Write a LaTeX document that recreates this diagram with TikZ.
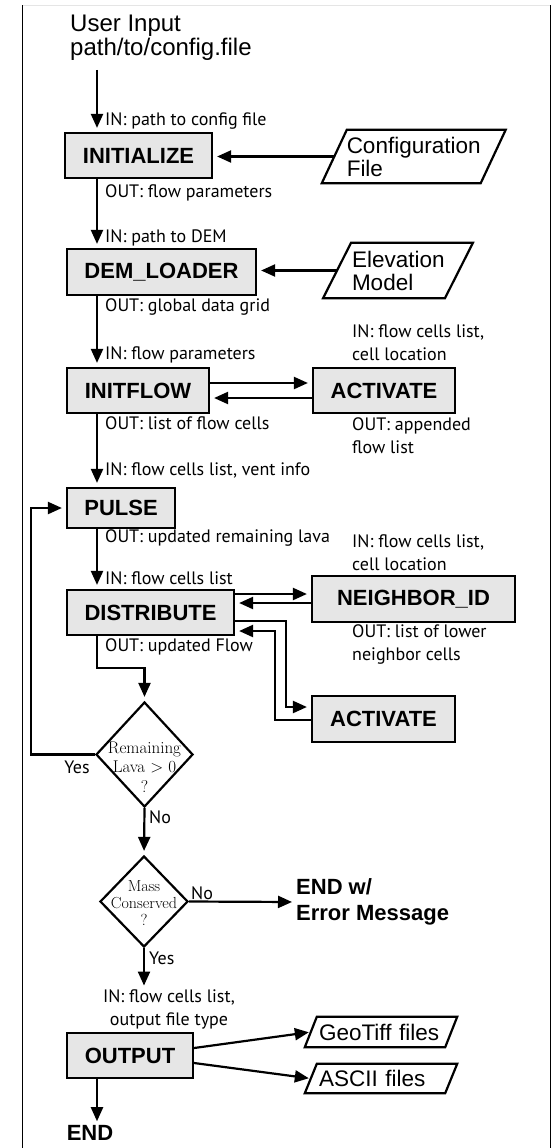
\documentclass[tikz,border=0pt]{standalone}
\usepackage{fontspec}
\newfontfamily\arialf{Liberation Sans}
\newfontfamily\lblf{PT Sans}
\usetikzlibrary{arrows.meta,shapes.geometric,calc}
\definecolor{boxfill}{RGB}{230,230,230}
\begin{document}
\begin{tikzpicture}[x=1pt,y=-1pt,
  box/.style={draw, line width=2.2pt, fill=boxfill, inner sep=0pt, minimum height=45pt,
    font=\arialf\bfseries\fontsize{22}{26}\selectfont},
  lbl/.style={font=\lblf\fontsize{18}{23}\selectfont, inner sep=0pt, align=left},
  arr/.style={line width=2.2pt, -{Triangle[length=14pt,width=12pt]}, shorten >=4pt},
  ln/.style={line width=2.2pt},
  para/.style={font=\arialf\fontsize{22.5}{23}\selectfont, align=left, inner sep=0pt},
  dia/.style={diamond, draw, line width=2.2pt, inner sep=0pt},
  dtxt/.style={font=\rmfamily\fontsize{17}{19.5}\selectfont, align=center, inner sep=0pt},
  big/.style={font=\arialf\bfseries\fontsize{22}{26}\selectfont, inner sep=0pt, align=left}
]
\useasboundingbox (0,0) rectangle (552,1148);
% frame
\draw[gray!20, line width=1pt] (22,6) -- (551,6);
\draw[line width=1.8pt] (22.5,5.5) -- (22.5,1148);
\draw[line width=1.8pt] (550.5,5.5) -- (550.5,1148);

\coordinate (col) at (97,0);
\coordinate (lx) at (31,0);

% user input
\node[font=\arialf\fontsize{24}{24}\selectfont, align=left, inner sep=0pt, anchor=north west] (user) at (70,15) {User Input\\path/to/config.file};
\coordinate (ustart) at (97,70);

% boxes
\node[box, minimum width=147pt] (init) at (138.5,155.5) {INITIALIZE};
\node[box, minimum width=189pt, minimum height=46pt] (dem) at (161.5,272) {DEM\_LOADER};
\node[box, minimum width=142pt] (iflow) at (138,390.5) {INITFLOW};
\node[box, minimum width=142pt] (act1) at (384,390.5) {ACTIVATE};
\node[box, minimum width=108pt, minimum height=40pt] (pulse) at (121,508) {PULSE};
\node[box, minimum width=167pt] (dist) at (150.5,612.5) {DISTRIBUTE};
\node[box, minimum width=203pt, minimum height=46pt] (neigh) at (413.5,599) {NEIGHBOR\_ID};
\node[box, minimum width=143pt, minimum height=46pt] (act2) at (383.5,719) {ACTIVATE};
\node[box, minimum width=126pt] (out) at (130,1055.5) {OUTPUT};

% parallelograms
\node[para, text width=134pt, minimum width=158.5pt, minimum height=53pt] (cfg) at (413.75,156.5) {Configuration\\File};
\draw[ln] ($(cfg.south west)+(-12.5,0)$) -- ($(cfg.north west)+(12.5,0)$) -- ($(cfg.north east)+(12.5,0)$) -- ($(cfg.south east)+(-12.5,0)$) -- cycle;
\node[para, text width=92pt, minimum width=121.5pt, minimum height=55pt] (elev) at (398,270.5) {Elevation\\Model};
\draw[ln] ($(elev.south west)+(-14,0)$) -- ($(elev.north west)+(14,0)$) -- ($(elev.north east)+(14,0)$) -- ($(elev.south east)+(-14,0)$) -- cycle;
\node[para, text width=124pt, minimum width=140pt, minimum height=30pt] (geo) at (381,1032) {GeoTiff files};
\draw[ln] ($(geo.south west)+(-6,0)$) -- ($(geo.north west)+(6,0)$) -- ($(geo.north east)+(6,0)$) -- ($(geo.south east)+(-6,0)$) -- cycle;
\node[para, text width=124pt, minimum width=140pt, minimum height=29pt] (asc) at (381,1078.5) {ASCII files};
\draw[ln] ($(asc.south west)+(-6,0)$) -- ($(asc.north west)+(6,0)$) -- ($(asc.north east)+(6,0)$) -- ($(asc.south east)+(-6,0)$) -- cycle;

% diamonds
\node[dia, minimum width=97pt, minimum height=105pt] (d1) at (144.5,754.5) {};
\node[dtxt] (d1t) at (144.5,767) {Remaining\\Lava > 0\\?};
\node[dia, minimum width=88pt, minimum height=91pt] (d2) at (144,901.5) {};
\node[dtxt, font=\rmfamily\fontsize{16}{17}\selectfont] (d2t) at (144,903) {Mass\\{\addfontfeature{LetterSpace=4}Conserved}\\?};

% labels
\node[lbl, anchor=west] (l1) at (105,121) {IN: path to config file};
\node[lbl, anchor=west] (l2) at (105,193) {OUT: flow parameters};
\node[lbl, anchor=west] (l3) at (105,238) {IN: path to DEM};
\node[lbl, anchor=west] (l4) at (105,307) {OUT: global data grid};
\node[lbl, anchor=west] (l5) at (105,355) {IN: flow parameters};
\node[lbl, anchor=west] (l6) at (352,343) {IN: flow cells list,\\cell location};
\node[lbl, anchor=west] (l7) at (105,423) {OUT: list of flow cells};
\node[lbl, anchor=west] (l8) at (352,436) {OUT: appended\\flow list};
\node[lbl, anchor=west] (l9) at (105,470) {IN: flow cells list, vent info};
\node[lbl, anchor=west] (l10) at (105,538) {OUT: updated remaining lava};
\node[lbl, anchor=west] (l11) at (352,553) {IN: flow cells list,\\cell location};
\node[lbl, anchor=west] (l12) at (105,578) {IN: flow cells list};
\node[lbl, anchor=west] (l13) at (352,644) {OUT: list of lower\\neighbor cells};
\node[lbl, anchor=west] (l14) at (105,647) {OUT: updated Flow};
\node[lbl] (yes1) at (77,767) {Yes};
\node[lbl, anchor=west] (no1) at (149,817) {No};
\node[lbl, anchor=west] (no2) at (191,893) {No};
\node[lbl, anchor=west] (yes2) at (149,958) {Yes};
\node[lbl, align=center] (outin) at (169,1009.5) {IN: flow cells list,\\output file type};
\node[big, anchor=west] (errn) at (296,902) {END w/\\Error Message};
\node[big] (endn) at (90,1133) {END};

% connectors
\draw[arr] (ustart) -- (col |- init.north);
\draw[arr] (cfg.west) -- (cfg.west -| init.east);
\draw[arr] (init.south -| col) -- (col |- dem.north);
\draw[arr] (elev.west) -- (elev.west -| dem.east);
\draw[arr] (dem.south -| col) -- (col |- iflow.north);
\draw[arr] ($(iflow.east)+(0,-7.5)$) -- ($(act1.west)+(0,-7.5)$);
\draw[arr] ($(act1.west)+(0,7.5)$) -- ($(iflow.east)+(0,7.5)$);
\draw[arr] (iflow.south -| col) -- (col |- pulse.north);
\draw[arr] (pulse.south -| col) -- (col |- dist.north);
\coordinate (dn1) at ($(dist.east)+(0,-18.5)$);
\coordinate (dn2) at ($(neigh.west)+(0,4)$);
\draw[arr] (dn1) -- (dn1 -| neigh.west);
\draw[arr] (dn2) -- (dn2 -| dist.east);
\draw[arr] ($(dist.east)+(0,8.5)$) -- ++(51,0) |- ($(act2.west)+(0,-12)$);
\draw[arr] ($(act2.west)+(0,1)$) -- ++(-36,0) |- ($(dist.east)+(0,18.5)$);
\draw[arr] (dist.south -| col) -- ++(0,32) -| (d1.north);
\draw[arr] (d1.west) -- (lx |- d1.west) |- (pulse.west);
\draw[arr] (d1.south) -- (d2.north);
\draw[arr] (d2.east) -- (errn.west);
\draw[arr] (d2.south) -- (d2.south |- outin.north);
\draw[arr, shorten >=2pt] ($(out.east)+(0,-7.5)$) -- (geo.west);
\draw[arr, shorten >=2pt] ($(out.east)+(0,7.5)$) -- (asc.west);
\draw[arr] (out.south -| col) -- (col |- endn.north);
\end{tikzpicture}
\end{document}
